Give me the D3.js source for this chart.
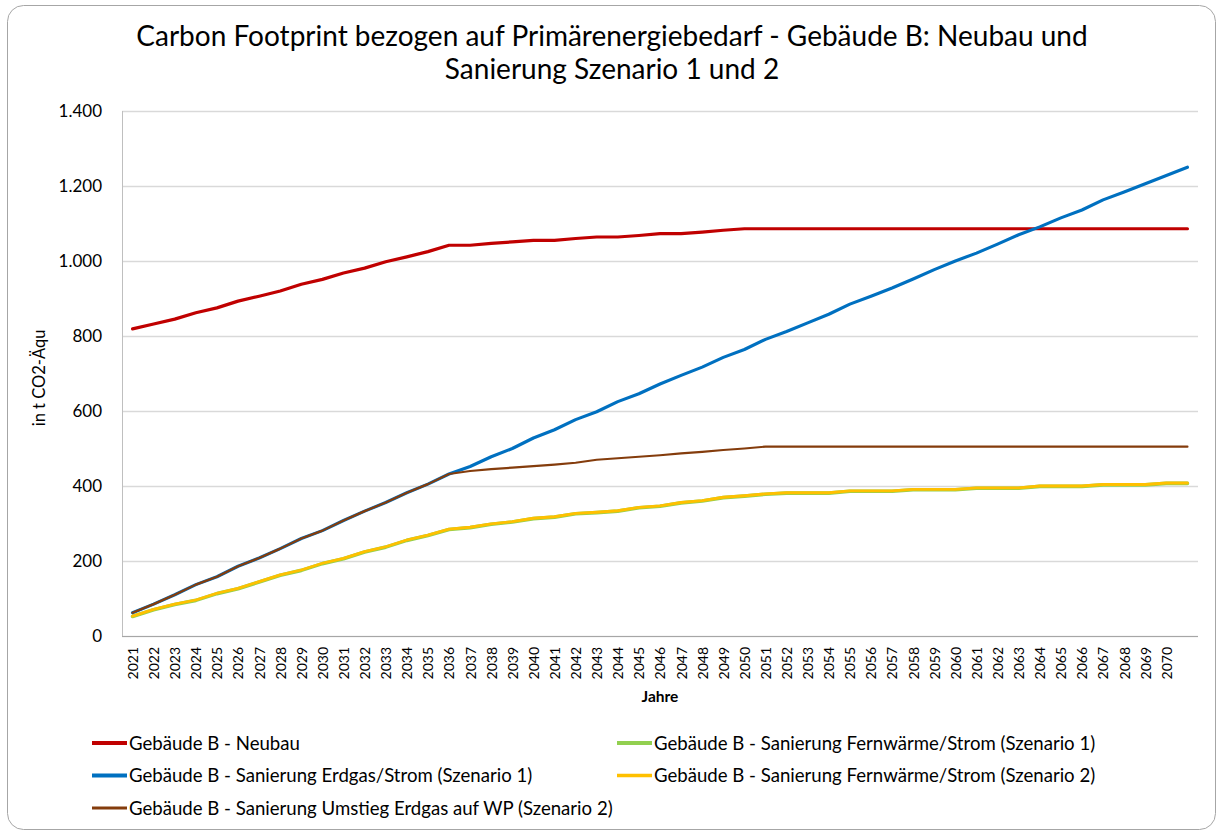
<!DOCTYPE html>
<html>
<head>
<meta charset="utf-8">
<script src="https://cdn.jsdelivr.net/npm/d3@7"></script>
<style>
  body { margin: 0; background: #fff; }
  svg { display: block; font-family: Lato, "Open Sans", sans-serif; }
</style>
</head>
<body>
<svg id="chart" width="1218" height="833"></svg>
<script>
// categories (last slot has no label in the original)
var years = ["2021","2022","2023","2024","2025","2026","2027","2028","2029","2030",
  "2031","2032","2033","2034","2035","2036","2037","2038","2039","2040",
  "2041","2042","2043","2044","2045","2046","2047","2048","2049","2050",
  "2051","2052","2053","2054","2055","2056","2057","2058","2059","2060",
  "2061","2062","2063","2064","2065","2066","2067","2068","2069","2070",""];

var yTicks = [0, 200, 400, 600, 800, 1000, 1200, 1400];

var neubau = [819, 832, 845, 862, 875, 893, 906, 920, 938, 951,
  968, 981, 998, 1011, 1025, 1042, 1042, 1047, 1051, 1055,
  1055, 1060, 1064, 1064, 1068, 1073, 1073, 1077, 1082, 1086,
  1086, 1086, 1086, 1086, 1086, 1086, 1086, 1086, 1086, 1086,
  1086, 1086, 1086, 1086, 1086, 1086, 1086, 1086, 1086, 1086, 1086];

var fernS1 = [52, 70, 84, 95, 113, 126, 144, 162, 175, 193,
  206, 224, 237, 255, 268, 284, 289, 298, 304, 313,
  317, 326, 329, 333, 342, 346, 355, 360, 369, 373,
  378, 381, 381, 381, 386, 386, 386, 390, 390, 390,
  394, 394, 394, 399, 399, 399, 403, 403, 403, 407, 407];

var erdgasS1 = [62, 85, 110, 137, 158, 186, 208, 233, 260, 281,
  308, 333, 356, 382, 405, 432, 452, 478, 500, 528,
  550, 577, 598, 625, 646, 672, 695, 717, 743, 764,
  791, 812, 835, 858, 885, 906, 928, 952, 977, 1000,
  1021, 1045, 1070, 1091, 1115, 1136, 1163, 1184, 1206, 1228, 1250];

var fernS2 = [53, 71, 85, 96, 114, 127, 145, 163, 176, 194,
  207, 225, 238, 256, 269, 285, 290, 299, 305, 314,
  318, 327, 330, 334, 343, 347, 356, 361, 370, 374,
  379, 382, 382, 382, 387, 387, 387, 391, 391, 391,
  395, 395, 395, 400, 400, 400, 404, 404, 404, 408, 408];

var umstiegS2 = [62, 85, 110, 137, 158, 186, 208, 233, 260, 281,
  308, 333, 356, 382, 405, 432, 440, 445, 449, 453,
  457, 462, 470, 474, 478, 482, 487, 491, 496, 500,
  505, 505, 505, 505, 505, 505, 505, 505, 505, 505,
  505, 505, 505, 505, 505, 505, 505, 505, 505, 505, 505];

var seriesNames = [
  "Gebäude B - Neubau",
  "Gebäude B - Sanierung Fernwärme/Strom (Szenario 1)",
  "Gebäude B - Sanierung Erdgas/Strom (Szenario 1)",
  "Gebäude B - Sanierung Fernwärme/Strom (Szenario 2)",
  "Gebäude B - Sanierung Umstieg Erdgas auf WP (Szenario 2)"
];
var seriesValues = [neubau, fernS1, erdgasS1, fernS2, umstiegS2];
var seriesColors = ["#C00000", "#92D050", "#0070C0", "#FFC000", "#843C0C"];
var seriesWidths = [3.2, 3.6, 3.2, 2.8, 2.2];

var svg = d3.select("#chart");

// plot area edges (not named top/left: window.top is read-only)
var plotL = 122, plotR = 1198, plotT = 111, plotB = 636;

var de = d3.formatLocale({decimal: ",", thousands: ".", grouping: [3], currency: ["", " €"]});
var fmt = de.format(",");

// outer frame
svg.append("rect")
  .attr("x", 7.5).attr("y", 5.5)
  .attr("width", 1208).attr("height", 824)
  .attr("rx", 16)
  .attr("fill", "#fff")
  .attr("stroke", "#a6a6a6");

// title
var title = svg.append("text")
  .attr("text-anchor", "middle")
  .attr("font-size", 28)
  .attr("fill", "#000");
title.append("tspan").attr("x", 612).attr("y", 46)
  .text("Carbon Footprint bezogen auf Primärenergiebedarf - Gebäude B: Neubau und");
title.append("tspan").attr("x", 612).attr("y", 79)
  .text("Sanierung Szenario 1 und 2");

var x = d3.scalePoint().domain(years).range([plotL, plotR]).padding(0.5);
var y = d3.scaleLinear().domain([0, 1400]).range([plotB, plotT]);

// gridlines
svg.append("g")
  .attr("transform", "translate(" + plotL + ",0)")
  .call(d3.axisLeft(y).tickValues(yTicks).tickSize(-(plotR - plotL)).tickFormat(""))
  .call(g => g.select(".domain").remove())
  .call(g => g.selectAll("line").attr("stroke", "#d9d9d9").attr("stroke-width", 1.5));

// y axis line
svg.append("line")
  .attr("x1", plotL + 0.5).attr("x2", plotL + 0.5)
  .attr("y1", plotT).attr("y2", plotB)
  .attr("stroke", "#bfbfbf");

// y labels
svg.append("g")
  .attr("transform", "translate(" + plotL + ",0)")
  .call(d3.axisLeft(y).tickValues(yTicks).tickSize(0).tickPadding(20).tickFormat(fmt))
  .call(g => g.select(".domain").remove())
  .call(g => g.selectAll("text").attr("font-size", 17).attr("fill", "#000")
    .attr("font-family", "Lato, sans-serif"));

// x axis
var xAxis = svg.append("g")
  .attr("transform", "translate(0," + plotB + ")")
  .call(d3.axisBottom(x).tickSize(0).tickPadding(0));
xAxis.select(".domain").attr("stroke", "#a6a6a6").attr("d", "M" + plotL + ",0.5H" + plotR);
xAxis.selectAll("text")
  .attr("font-size", 14)
  .attr("font-family", "Lato, sans-serif")
  .attr("fill", "#000")
  .attr("text-anchor", "end")
  .attr("transform", "rotate(-90)")
  .attr("x", -11)
  .attr("y", 0)
  .attr("dy", "0.35em");

// axis titles
svg.append("text")
  .attr("transform", "translate(45,378) rotate(-90)")
  .attr("text-anchor", "middle")
  .attr("font-size", 16.5)
  .attr("fill", "#000")
  .text("in t CO2-Äqu");

svg.append("text")
  .attr("x", 660).attr("y", 702)
  .attr("text-anchor", "middle")
  .attr("font-size", 15.5)
  .attr("font-weight", "bold")
  .attr("fill", "#000")
  .text("Jahre");

// lines
var line = d3.line()
  .x((d, i) => x(years[i]))
  .y(d => y(d));

svg.append("g").selectAll("path")
  .data(seriesValues)
  .join("path")
  .attr("d", line)
  .attr("fill", "none")
  .attr("stroke", (d, i) => seriesColors[i])
  .attr("stroke-width", (d, i) => seriesWidths[i])
  .attr("stroke-linejoin", "round")
  .attr("stroke-linecap", "round");

// legend
var legend = svg.append("g").selectAll("g")
  .data(seriesNames)
  .join("g")
  .attr("transform", (d, i) => "translate(" + (92 + (i % 2) * 525) + "," + (743 + Math.floor(i / 2) * 32.5) + ")");

legend.append("line")
  .attr("x1", 0).attr("x2", 35)
  .attr("y1", 0).attr("y2", 0)
  .attr("stroke", (d, i) => seriesColors[i])
  .attr("stroke-width", (d, i) => seriesWidths[i] + 0.6);

legend.append("text")
  .attr("x", 37)
  .attr("y", 0)
  .attr("dy", "0.35em")
  .attr("font-size", 18.6)
  .attr("fill", "#000")
  .text(d => d);
</script>
</body>
</html>
